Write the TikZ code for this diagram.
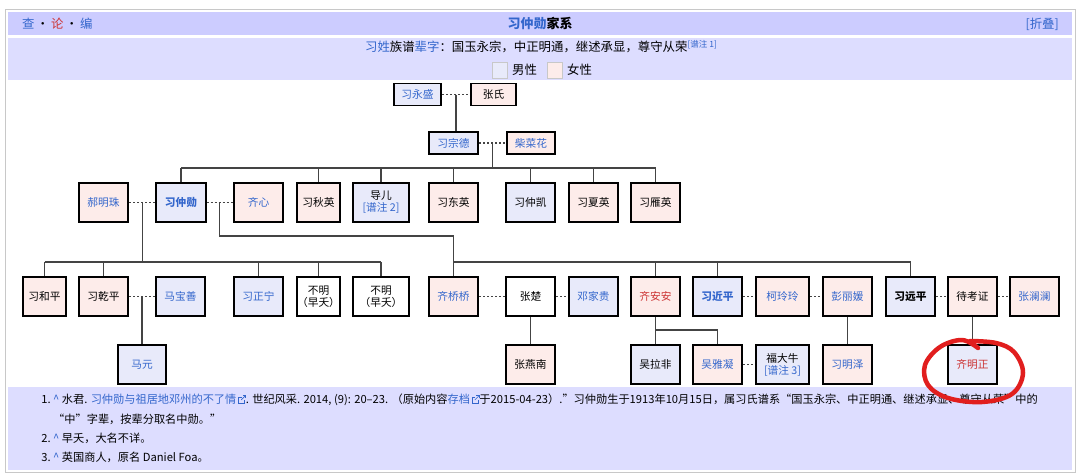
\documentclass[tikz,border=0pt]{standalone}
\usepackage{fontspec}
\setmainfont{Noto Sans CJK SC}
\definecolor{hdr}{RGB}{204,204,255}
\definecolor{subc}{RGB}{221,221,255}
\definecolor{malec}{RGB}{232,234,250}
\definecolor{femalec}{RGB}{253,236,234}
\definecolor{wlink}{RGB}{51,102,204}
\definecolor{wred}{RGB}{204,51,51}
\definecolor{linec}{RGB}{68,68,68}
\definecolor{framec}{RGB}{200,200,200}
\definecolor{penred}{RGB}{225,30,30}
\newcommand{\extic}{\tikz[baseline=0pt,x=1pt,y=1pt,line width=0.6pt]{\draw[wlink] (3.5,6.5) -- (0.5,6.5) -- (0.5,0.5) -- (6.5,0.5) -- (6.5,3.5); \draw[wlink] (3.2,3.8) -- (7.5,8.1); \draw[wlink] (4.8,8.1) -- (7.5,8.1) -- (7.5,5.4);}}
\tikzset{
 pbox/.style={draw=black, line width=1.6pt, inner sep=0pt, minimum height=39.5pt, minimum width=49.5pt, align=center, font=\fontsize{10.7}{13}\selectfont},
 sbox/.style={pbox, minimum height=22pt},
 gm/.style={fill=malec}, gf/.style={fill=femalec}, gu/.style={fill=white},
 spouse/.style={draw=linec, line width=1.3pt, dash pattern=on 2.2pt off 1.8pt},
 kin/.style={draw=linec, line width=1.2pt},
 fn/.style={anchor=west, inner sep=0pt, font=\fontsize{11.2}{13}\selectfont},
 hd/.style={inner sep=0pt, font=\fontsize{12.4}{14}\selectfont},
}
\begin{document}
\begin{tikzpicture}[x=1pt,y=-1pt]
\useasboundingbox (0,0) rectangle (1080,475);
\fill[white] (0,0) rectangle (1080,475);
\draw[framec, line width=1.5pt] (5.5,9.5) rectangle (1075.5,472.5);
\fill[hdr] (8,12) rectangle (1072,35);
\fill[subc] (8,38) rectangle (1072,80);
\fill[subc] (8,387) rectangle (1072,470);

% header
\node[hd, anchor=west] (vte) at (22,24) {\textcolor{wlink}{查}\,•\,\textcolor{wred}{论}\,•\,\textcolor{wlink}{编}};
\node[hd, font=\bfseries\fontsize{13}{15}\selectfont] (title) at (540,24) {\textcolor{wlink}{习仲勋}家系};
\node[hd, anchor=east] (collapse) at (1059,24) {\textcolor{wlink}{[折叠]}};
\node[hd] (zibei) at (541,47) {\textcolor{wlink}{习姓}族谱\textcolor{wlink}{辈字}：国玉永宗，中正明通，继述承显，尊守从荣\raisebox{4pt}{\fontsize{8.5}{9}\selectfont\textcolor{wlink}{[谱注 1]}}};
\node[draw=framec, fill=malec, minimum width=15pt, minimum height=16pt, inner sep=0pt] (lm) at (499.5,70) {};
\node[hd, anchor=west] (lmt) at (512,70) {男性};
\node[draw=framec, fill=femalec, minimum width=15pt, minimum height=16pt, inner sep=0pt] (lf) at (555,70) {};
\node[hd, anchor=west] (lft) at (567,70) {女性};

% row 0
\node[sbox, gm, minimum width=47.5pt] (yongsheng) at (417.5,94.5) {\textcolor{wlink}{习永盛}};
\node[sbox, gf, minimum width=45.5pt] (zhangshi) at (493.5,94.5) {张氏};
% row 1
\node[sbox, gm, minimum height=22.5pt] (zongde) at (453.5,143) {\textcolor{wlink}{习宗德}};
\node[sbox, gf, minimum height=22.5pt, minimum width=48.5pt] (caihua) at (531,143) {\textcolor{wlink}{柴菜花}};
% row 2
\node[pbox, gf] (haomingzhu) at (103.5,202.5) {\textcolor{wlink}{郝明珠}};
\node[pbox, gm] (zhongxun) at (181,202.5) {\textcolor{wlink}{\bfseries 习仲勋}};
\node[pbox, gf] (qixin) at (258.5,202.5) {\textcolor{wlink}{齐心}};
\node[pbox, gf, minimum width=43.5pt] (qiuying) at (318.5,202.5) {习秋英};
\node[pbox, gm, minimum width=56.5pt] (daoer) at (381,202.5) {导儿\\[-1pt]\textcolor{wlink}{[谱注 2]}};
\node[pbox, gf] (dongying) at (453.5,202.5) {习东英};
\node[pbox, gm] (zhongkai) at (530.5,202.5) {习仲凯};
\node[pbox, gf] (xiaying) at (593.5,202.5) {习夏英};
\node[pbox, gf] (yanying) at (655.5,202.5) {习雁英};
% row 3
\node[pbox, gf, minimum width=43.5pt] (heping) at (44.5,296.5) {习和平};
\node[pbox, gf] (qianping) at (103.5,296.5) {习乾平};
\node[pbox, gm] (baoshan) at (180.5,296.5) {\textcolor{wlink}{马宝善}};
\node[pbox, gm] (zhengning) at (258.5,296.5) {\textcolor{wlink}{习正宁}};
\node[pbox, gu, minimum width=43.5pt] (buming1) at (318.5,296.5) {不明\\[-1pt]（早夭）};
\node[pbox, gu, minimum width=56.5pt] (buming2) at (381,296.5) {不明\\[-1pt]（早夭）};
\node[pbox, gf] (qiaoqiao) at (453.5,296.5) {\textcolor{wlink}{齐桥桥}};
\node[pbox, gu] (zhangchu) at (530.5,296.5) {张楚};
\node[pbox, gm] (jiagui) at (593.5,296.5) {\textcolor{wlink}{邓家贵}};
\node[pbox, gf] (anan) at (655.5,296.5) {\textcolor{wred}{齐安安}};
\node[pbox, gm] (jinping) at (717.5,296.5) {\textcolor{wlink}{\bfseries 习近平}};
\node[pbox, gf, minimum width=53.5pt] (lingling) at (782.5,296.5) {\textcolor{wlink}{柯玲玲}};
\node[pbox, gf] (liyuan) at (847.5,296.5) {\textcolor{wlink}{彭丽媛}};
\node[pbox, gm] (yuanping) at (910.5,296.5) {\bfseries 习远平};
\node[pbox, gf] (kaozheng) at (972.5,296.5) {待考证};
\node[pbox, gf] (lanlan) at (1034.5,296.5) {\textcolor{wlink}{张澜澜}};
% row 4
\node[pbox, gm, minimum width=48.5pt] (mayuan) at (142,364.5) {\textcolor{wlink}{马元}};
\node[pbox, gf] (yannan) at (530.5,364.5) {张燕南};
\node[pbox, gm] (lafei) at (655.5,364.5) {吴拉非};
\node[pbox, gf] (yaning) at (717.5,364.5) {\textcolor{wlink}{吴雅凝}};
\node[pbox, gm, minimum width=53.5pt] (daniu) at (782.5,364.5) {福大牛\\[-1pt]\textcolor{wlink}{[谱注 3]}};
\node[pbox, gf] (mingze) at (847.5,364.5) {\textcolor{wlink}{习明泽}};
\node[pbox, gm] (mingzheng) at (972.5,364.5) {\textcolor{wred}{齐明正}};

% connectors
\coordinate (b1) at (0,168);
\coordinate (b2) at (0,262);
\coordinate (b3) at (0,236);
\coordinate (b4) at (0,330);
\draw[spouse] (yongsheng) -- (zhangshi) coordinate[midway] (c0);
\draw[kin] (c0) -- (c0 |- zongde.north);
\draw[spouse] (zongde) -- (caihua) coordinate[midway] (c1);
\draw[kin] (c1) -- (c1 |- b1);
\draw[kin] (zhongxun.north |- b1) -- (yanying.north |- b1);
\foreach \n in {zhongxun,qiuying,daoer,dongying,zhongkai,xiaying,yanying}
  \draw[kin] (\n.north) -- (\n.north |- b1);
\draw[spouse] (haomingzhu) -- (zhongxun) coordinate[midway] (c2);
\draw[spouse] (zhongxun) -- (qixin) coordinate[midway] (c3);
\draw[kin] (c2) -- (c2 |- b2);
\draw[kin] (heping.north |- b2) -- (buming2.north |- b2);
\foreach \n in {heping,qianping,zhengning,buming1,buming2}
  \draw[kin] (\n.north) -- (\n.north |- b2);
\draw[kin] (c3) -- (c3 |- b3) -- (qiaoqiao.north |- b3) -- (qiaoqiao.north);
\draw[kin] (qiaoqiao.north |- b2) -- (yuanping.north |- b2);
\foreach \n in {anan,jinping,yuanping}
  \draw[kin] (\n.north) -- (\n.north |- b2);
\draw[spouse] (qianping) -- (baoshan) coordinate[midway] (c4);
\draw[kin] (c4) -- (c4 |- mayuan.north);
\draw[spouse] (qiaoqiao) -- (zhangchu);
\draw[spouse] (zhangchu) -- (jiagui);
\draw[spouse] (jinping) -- (lingling);
\draw[spouse] (lingling) -- (liyuan);
\draw[spouse] (yuanping) -- (kaozheng);
\draw[spouse] (kaozheng) -- (lanlan);
\draw[kin] (zhangchu) -- (yannan);
\draw[kin] (anan) -- (lafei);
\draw[kin] (anan.south |- b4) -- (yaning.north |- b4) -- (yaning.north);
\draw[kin] (liyuan) -- (mingze);
\draw[kin] (kaozheng) -- (mingzheng);
\draw[spouse] (yaning) -- (daniu);

% footnotes
\node[fn, anchor=east] (n1) at (51,400) {1.};
\node[fn] (f1) at (53,400) {\textcolor{wlink}{\textasciicircum}\ 水君. \textcolor{wlink}{习仲勋与祖居地邓州的不了情}\,\extic. 世纪风采. 2014, (9): 20–23. （原始内容\textcolor{wlink}{存档}\,\extic 于2015-04-23）."习仲勋生于1913年10月15日，属习氏谱系“国玉永宗、中正明通、继述承显、尊守从荣”中的};
\node[fn] (f1b) at (53,419) {“中”字辈，按辈分取名中勋。"};
\node[fn, anchor=east] (n2) at (51,438) {2.};
\node[fn] (f2) at (53,438) {\textcolor{wlink}{\textasciicircum}\ 早夭，大名不详。};
\node[fn, anchor=east] (n3) at (51,457) {3.};
\node[fn] (f3) at (53,457) {\textcolor{wlink}{\textasciicircum}\ 英国商人，原名 Daniel Foa。};

% red hand-drawn circle
\draw[penred, line width=4.5pt, line cap=round, line join=round] plot[smooth, tension=0.6] coordinates {(978,348) (962,340) (940,347) (925,365) (928,385) (948,398) (982,402) (1012,394) (1023,373) (1014,352) (996,343) (970,341)};
\end{tikzpicture}
\end{document}
